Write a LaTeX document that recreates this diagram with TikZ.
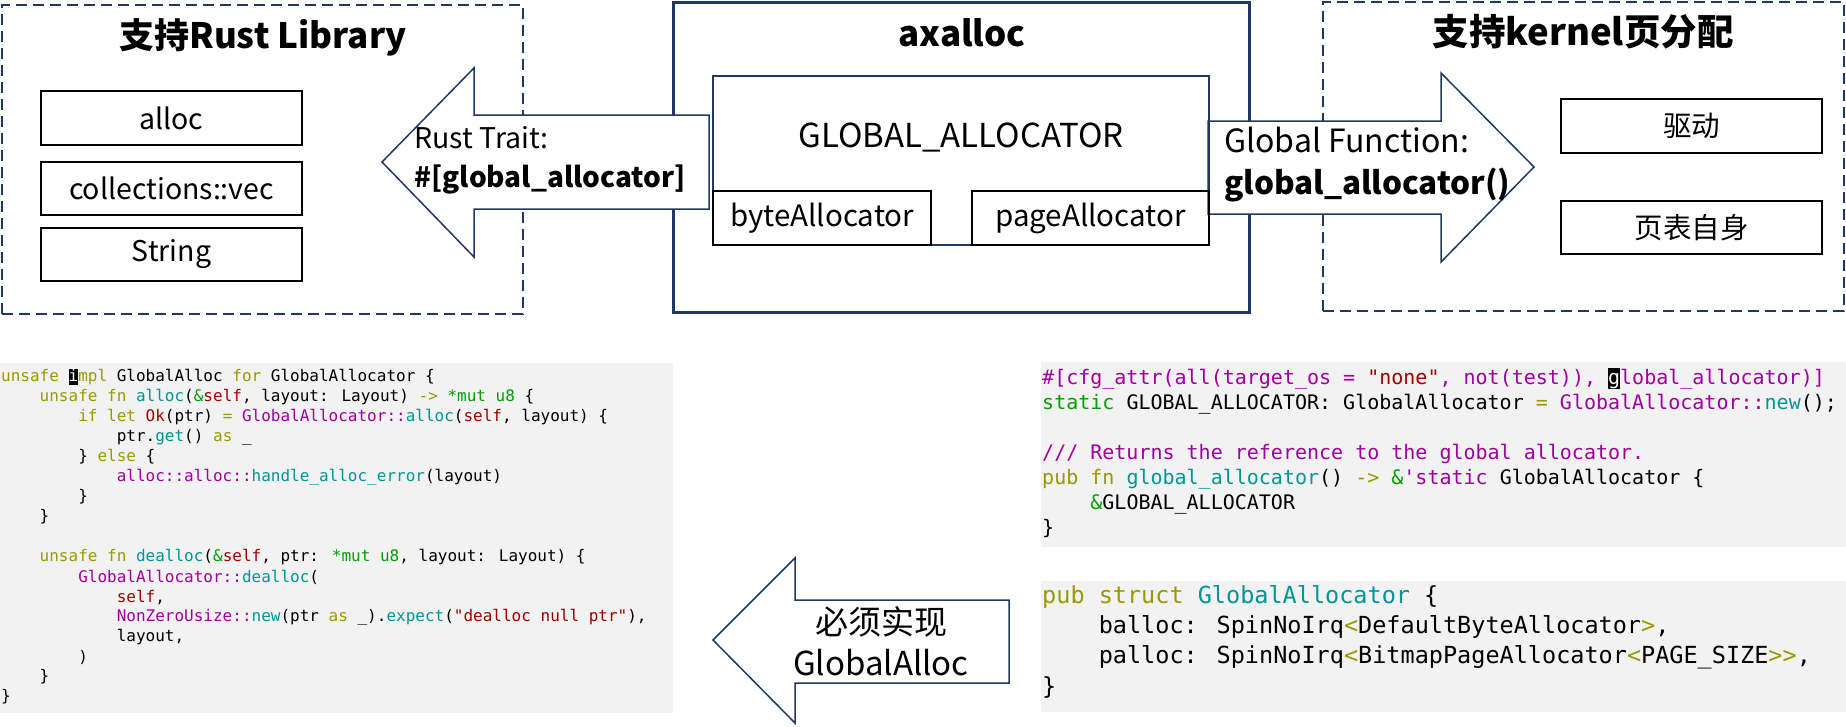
\documentclass[tikz,border=0pt]{standalone}
\usepackage{fontspec}
\setmainfont{Noto Sans CJK SC}
\newfontfamily\codefont{DejaVu Sans Mono}
\usepackage{tikz}
\usetikzlibrary{positioning}
\definecolor{navy}{RGB}{32,56,100}
\definecolor{codebg}{RGB}{242,242,242}
\definecolor{kwcol}{RGB}{153,153,0}
\definecolor{fncol}{RGB}{0,150,150}
\definecolor{tycol}{RGB}{160,0,160}
\definecolor{svcol}{RGB}{160,0,0}
\definecolor{grcol}{RGB}{0,160,0}
\newcommand{\ckw}[1]{\textcolor{kwcol}{#1}}
\newcommand{\cfn}[1]{\textcolor{fncol}{#1}}
\newcommand{\cty}[1]{\textcolor{tycol}{#1}}
\newcommand{\csv}[1]{\textcolor{svcol}{#1}}
\newcommand{\cgr}[1]{\textcolor{grcol}{#1}}
\newcommand{\cursorch}[1]{{\setlength{\fboxsep}{0pt}\colorbox{black}{\rule[-0.22em]{0pt}{1.05em}\textcolor{white}{#1}}}}
\newcommand{\tab}{\phantom{xxxx}}

\begin{document}
\begin{tikzpicture}[x=1pt, y=-1pt,
  dashbox/.style={draw=navy, line width=2pt, dash pattern=on 11pt off 6pt},
  title/.style={font=\bfseries\fontsize{35}{42}\selectfont},
  itembox/.style={draw=black, line width=2.2pt, inner sep=0pt, font=\fontsize{28.5}{34}\selectfont},
  blockarrow/.style={draw=navy, line width=1.5pt, fill=white, line join=miter},
  arrowtext/.style={anchor=west, inner sep=0pt, font=\fontsize{28.5}{34}\selectfont},
  codeL/.style={anchor=west, inner sep=0pt, font=\codefont\fontsize{16}{18}\selectfont},
  codeR/.style={anchor=west, inner sep=0pt, font=\codefont\fontsize{20}{22}\selectfont},
  codeS/.style={anchor=west, inner sep=0pt, font=\codefont\fontsize{23.5}{26}\selectfont}]
\useasboundingbox (0,0) rectangle (1846,726);

% --- Rust Library ---
\node[dashbox, minimum width=521pt, minimum height=309pt] (libbox) at (262.5,159.5) {};
\node[title] (libtitle) at (263,37) {支持Rust Library};
\node[itembox, minimum width=261pt, minimum height=54pt] (alloc) at (171.5,118) {alloc};
\node[itembox, minimum width=261pt, minimum height=53pt] (vec) at (171.5,188.5) {collections::vec};
\node[itembox, minimum width=261pt, minimum height=53pt] (string) at (171.5,254.5) {String};

% --- kernel ---
\node[dashbox, minimum width=521pt, minimum height=309pt] (kbox) at (1583.5,156.5) {};
\node[title, font=\bfseries\fontsize{36.5}{42}\selectfont] (ktitle) at (1583,32) {支持kernel页分配};
\node[itembox, minimum width=261pt, minimum height=54pt] (driver) at (1691.5,126) {驱动};
\node[itembox, minimum width=261pt, minimum height=53pt] (pgtable) at (1691.5,227.5) {页表自身};

% --- axalloc ---
\node[draw=navy, line width=3pt, minimum width=576pt, minimum height=310pt] (axbox) at (961,157) {};
\node[title] (axtitle) at (962,33) {axalloc};

% --- arrows ---
\draw[blockarrow] (382,162) -- (474,68) -- (474,115) -- (709,115) -- (709,209) -- (474,209) -- (474,257) -- cycle;
\node[arrowtext] (trait) at (414,138) {Rust Trait:};
\node[arrowtext, font=\bfseries\fontsize{28}{34}\selectfont] (traitname) at (414,180) {\#[global\_allocator]};
\draw[blockarrow] (1208,121) -- (1441,121) -- (1441,73) -- (1534,167) -- (1441,262) -- (1441,214) -- (1208,214) -- cycle;
\node[arrowtext, font=\fontsize{32}{38}\selectfont] (func) at (1224,140) {Global Function:};
\node[arrowtext, font=\bfseries\fontsize{31.5}{38}\selectfont] (funcname) at (1224,185) {global\_allocator()};

\node[draw=navy, line width=2pt, minimum width=496pt, minimum height=169pt] (gbox) at (961,160.5) {};
\node[font=\fontsize{33}{38}\selectfont] (glabel) at (961,137) {GLOBAL\_ALLOCATOR};
\node[itembox, font=\fontsize{29.5}{34}\selectfont, minimum width=218pt, minimum height=54pt] (byte) at (822,218) {byteAllocator};
\node[itembox, font=\fontsize{29.5}{34}\selectfont, minimum width=237pt, minimum height=54pt] (page) at (1090.5,218) {pageAllocator};

% --- code ---
\fill[codebg] (0,363) rectangle (673,713);
\fill[codebg] (1041,362) rectangle (1846,547);
\fill[codebg] (1041,581) rectangle (1846,712);

\node[codeL] (a1) at (1,377) {\ckw{unsafe} \cursorch{i}\ckw{mpl} GlobalAlloc \ckw{for} GlobalAllocator \{};
\node[codeL] (a2) at (1,397) {\tab\ckw{unsafe fn} \cfn{alloc}(\cgr{\&}\csv{self}, layout: Layout) \ckw{->} \cgr{*mut u8} \{};
\node[codeL] (a3) at (1,417) {\tab\tab\ckw{if let} \csv{Ok}(ptr) \ckw{=} \cty{GlobalAllocator::}\cfn{alloc}(\csv{self}, layout) \{};
\node[codeL] (a4) at (1,437) {\tab\tab\tab ptr.\cfn{get}() \ckw{as} \_};
\node[codeL] (a5) at (1,457) {\tab\tab\} \ckw{else} \{};
\node[codeL] (a6) at (1,477) {\tab\tab\tab\cty{alloc::alloc::}\cfn{handle\_alloc\_error}(layout)};
\node[codeL] (a7) at (1,497) {\tab\tab\}};
\node[codeL] (a8) at (1,517) {\tab\}};
\node[codeL] (a9) at (1,557) {\tab\ckw{unsafe fn} \cfn{dealloc}(\cgr{\&}\csv{self}, ptr: \cgr{*mut u8}, layout: Layout) \{};
\node[codeL] (a10) at (1,577) {\tab\tab\cty{GlobalAllocator::}\cfn{dealloc}(};
\node[codeL] (a11) at (1,597) {\tab\tab\tab\csv{self},};
\node[codeL] (a12) at (1,617) {\tab\tab\tab\cty{NonZeroUsize::}\cfn{new}(ptr \ckw{as} \_).\cfn{expect}(\csv{"dealloc null ptr"}),};
\node[codeL] (a13) at (1,637) {\tab\tab\tab layout,};
\node[codeL] (a14) at (1,657) {\tab\tab)};
\node[codeL] (a15) at (1,677) {\tab\}};
\node[codeL] (a16) at (1,697) {\}};

\node[codeR] (b1) at (1042,379) {\cty{\#[cfg\_attr(all(target\_os = }\csv{"none"}\cty{, not(test)), }\cursorch{g}\cty{lobal\_allocator)]}};
\node[codeR] (b2) at (1042,404) {\cgr{static} GLOBAL\_ALLOCATOR: GlobalAllocator \ckw{=} \cty{GlobalAllocator::}\cfn{new}();};
\node[codeR] (b3) at (1042,454) {\cty{/// Returns the reference to the global allocator.}};
\node[codeR] (b4) at (1042,479) {\ckw{pub fn} \cfn{global\_allocator}() \ckw{->} \cgr{\&}\cty{'static} GlobalAllocator \{};
\node[codeR] (b5) at (1042,504) {\tab\cgr{\&}GLOBAL\_ALLOCATOR};
\node[codeR] (b6) at (1042,529) {\}};

\node[codeS] (c1) at (1042,597) {\ckw{pub struct} \cfn{GlobalAllocator} \{};
\node[codeS] (c2) at (1042,627) {\tab balloc: SpinNoIrq\ckw{<}DefaultByteAllocator\ckw{>},};
\node[codeS] (c3) at (1042,657) {\tab palloc: SpinNoIrq\ckw{<}BitmapPageAllocator\ckw{<}PAGE\_SIZE\ckw{>>},};
\node[codeS] (c4) at (1042,687) {\}};

% --- GlobalAlloc arrow ---
\draw[blockarrow] (713,640) -- (795,558) -- (795,600) -- (1009,600) -- (1009,683) -- (795,683) -- (795,723) -- cycle;
\node[font=\fontsize{33}{38}\selectfont] (must) at (881,622) {必须实现};
\node[font=\fontsize{33}{38}\selectfont] (galloc) at (881,663) {GlobalAlloc};
\end{tikzpicture}
\end{document}
